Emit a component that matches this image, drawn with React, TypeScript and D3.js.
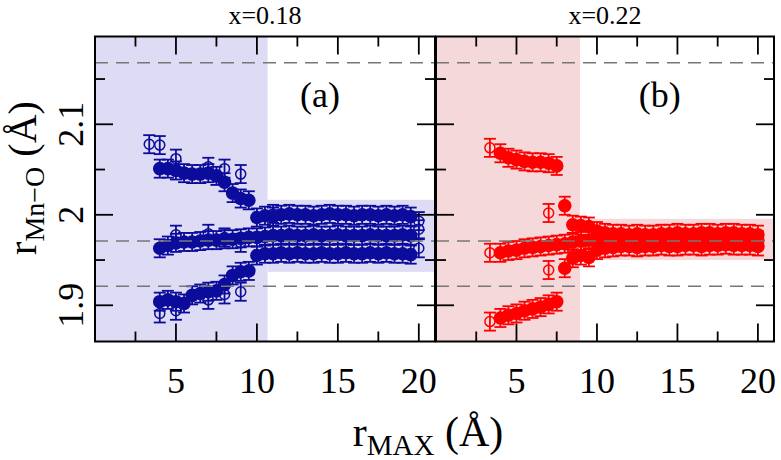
import React from "react";
import * as d3 from "d3";

const W = 781;
const H = 460;

// r_MAX grid of the filled points
const aR = [4, 4.5, 5, 5.5, 6, 6.5, 7, 7.5, 8, 8.5, 9, 9.5, 10, 10.5, 11, 11.5, 12, 12.5, 13, 13.5, 14, 14.5, 15, 15.5, 16, 16.5, 17, 17.5, 18, 18.5, 19, 19.5];
const bR = [4, 4.5, 5, 5.5, 6, 6.5, 7, 7.5, 8, 8.5, 9, 9.5, 10, 10.5, 11, 11.5, 12, 12.5, 13, 13.5, 14, 14.5, 15, 15.5, 16, 16.5, 17, 17.5, 18, 18.5, 19, 19.5, 20];

// (a) x=0.18, filled
const aUpper = [2.051, 2.051, 2.049, 2.046, 2.045, 2.045, 2.046, 2.043, 2.036, 2.024, 2.018, 2.016, 1.997, 1.999, 1.998, 2.0, 2.001, 2.0, 2.0, 1.999, 2.0, 2.001, 2.0, 2.0, 1.999, 2.0, 2.0, 1.999, 2.0, 1.999, 2.0, 1.998];
const aMiddle = [1.963, 1.966, 1.969, 1.97, 1.97, 1.971, 1.972, 1.972, 1.973, 1.973, 1.974, 1.975, 1.975, 1.976, 1.977, 1.977, 1.978, 1.977, 1.977, 1.978, 1.977, 1.977, 1.978, 1.977, 1.977, 1.977, 1.978, 1.977, 1.977, 1.977, 1.978, 1.977];
const aLower = [1.904, 1.906, 1.904, 1.902, 1.911, 1.913, 1.915, 1.916, 1.923, 1.933, 1.937, 1.938, 1.955, 1.957, 1.957, 1.958, 1.957, 1.958, 1.957, 1.957, 1.958, 1.957, 1.957, 1.958, 1.957, 1.957, 1.958, 1.957, 1.958, 1.957, 1.957, 1.956];

// (a) open
const aOpenUpperR = [3.35, 4, 5, 7, 8, 9, 11, 20];
const aOpenUpper = [2.078, 2.077, 2.062, 2.053, 2.051, 2.045, 2.001, 1.993];
const aOpenMiddleR = [5, 7, 8, 9, 20];
const aOpenMiddle = [1.978, 1.979, 1.975, 1.969, 1.984];
const aOpenLowerR = [4, 5, 7, 8, 9, 20];
const aOpenLower = [1.891, 1.894, 1.906, 1.912, 1.915, 1.963];

// (b) x=0.22, filled
const bUpper = [2.068, 2.063, 2.061, 2.059, 2.058, 2.058, 2.057, 2.054, 2.01, 1.989, 1.988, 1.987, 1.982, 1.98, 1.979, 1.979, 1.978, 1.979, 1.978, 1.978, 1.979, 1.979, 1.98, 1.979, 1.979, 1.98, 1.98, 1.979, 1.98, 1.98, 1.979, 1.979, 1.978];
const bMiddle = [1.958, 1.96, 1.961, 1.963, 1.964, 1.965, 1.966, 1.967, 1.968, 1.97, 1.971, 1.972, 1.972, 1.971, 1.972, 1.972, 1.973, 1.972, 1.972, 1.973, 1.972, 1.973, 1.973, 1.972, 1.973, 1.973, 1.974, 1.973, 1.973, 1.974, 1.973, 1.973, 1.972];
const bLower = [1.886, 1.889, 1.891, 1.894, 1.896, 1.898, 1.901, 1.904, 1.941, 1.952, 1.955, 1.953, 1.961, 1.963, 1.964, 1.965, 1.965, 1.964, 1.965, 1.965, 1.966, 1.965, 1.965, 1.966, 1.966, 1.965, 1.966, 1.966, 1.967, 1.966, 1.966, 1.966, 1.965];

// (b) open
const bOpenUpperR = [3.35];
const bOpenUpper = [2.074];
const bOpenMiddleR = [3.35, 7];
const bOpenMiddle = [1.958, 2.002];
const bOpenLowerR = [3.35, 7];
const bOpenLower = [1.882, 1.939];

const errBar = 0.01;
const refLines = [2.168, 1.971, 1.921];
const xMajor = [5, 10, 15, 20];
const xMinor = [2.5, 7.5, 12.5, 17.5];
const yMajor = [1.9, 2.0, 2.1];
const yMinor = [1.95, 2.05, 2.15];

const FONT = "'Liberation Serif', 'DejaVu Serif', serif";

const y = d3.scaleLinear().domain([1.86, 2.197]).range([341.5, 36.5]);

type Series = { r: number[]; v: number[]; open: boolean };

type PanelProps = {
  x0: number;
  x1: number;
  color: string;
  shade: string;
  shadeEnd: number;
  band: [number, number];
  series: Series[];
  label: string;
  title: string;
};

const Panel: React.FC<PanelProps> = ({ x0, x1, color, shade, shadeEnd, band, series, label, title }) => {
  const x = d3.scaleLinear().domain([0, 21]).range([x0, x1]);
  const [y0, y1] = y.range();
  const cap = 6;
  return (
    <g>
      {/* shaded areas */}
      <rect x={x(0)} y={y1} width={x(shadeEnd) - x(0)} height={y0 - y1} fill={shade} />
      <rect x={x(shadeEnd)} y={y(band[1])} width={x(21) - x(shadeEnd)} height={y(band[0]) - y(band[1])} fill={shade} />

      {/* data */}
      {series.map((s, si) => (
        <g key={si}>
          {s.r.map((r, i) => {
            const cx = x(r);
            const v = s.v[i];
            const yt = y(v + errBar);
            const yb = y(v - errBar);
            return (
              <g key={i} stroke={color} strokeWidth={1.8}>
                <line x1={cx} x2={cx} y1={yt} y2={yb} />
                <line x1={cx - cap} x2={cx + cap} y1={yt} y2={yt} />
                <line x1={cx - cap} x2={cx + cap} y1={yb} y2={yb} />
                {s.open ? (
                  <circle cx={cx} cy={y(v)} r={5} fill="none" strokeWidth={1.5} />
                ) : (
                  <circle cx={cx} cy={y(v)} r={6.8} fill={color} stroke="none" />
                )}
              </g>
            );
          })}
        </g>
      ))}

      {/* reference distances */}
      {refLines.map((d) => (
        <line key={d} x1={x0} x2={x1} y1={y(d)} y2={y(d)} stroke="#777" strokeWidth={1.6} strokeDasharray="13,8" />
      ))}

      {/* ticks */}
      {xMajor.concat(xMinor).map((t) => {
        const len = xMajor.includes(t) ? 18 : 10;
        return (
          <g key={"x" + t} stroke="#000" strokeWidth={1.8}>
            <line x1={x(t)} x2={x(t)} y1={y0} y2={y0 - len} />
            <line x1={x(t)} x2={x(t)} y1={y1} y2={y1 + len} />
          </g>
        );
      })}
      {yMajor.concat(yMinor).map((t) => {
        const len = yMajor.includes(t) ? 18 : 10;
        return (
          <g key={"y" + t} stroke="#000" strokeWidth={1.8}>
            <line x1={x0} x2={x0 + len} y1={y(t)} y2={y(t)} />
            <line x1={x1} x2={x1 - len} y1={y(t)} y2={y(t)} />
          </g>
        );
      })}
      <rect x={x0} y={y1} width={x1 - x0} height={y0 - y1} fill="none" stroke="#000" strokeWidth={2} />

      {/* tick labels */}
      {xMajor.map((t) => (
        <text key={"xl" + t} x={x(t)} y={393} textAnchor="middle" fontSize={36} fontFamily={FONT}>
          {t}
        </text>
      ))}
      <text x={x(13.9)} y={107} textAnchor="middle" fontSize={36} fontFamily={FONT}>
        {label}
      </text>
      <text x={(x0 + x1) / 2} y={24} textAnchor="middle" fontSize={26} fontFamily={FONT}>
        {title}
      </text>
    </g>
  );
};

const App: React.FC = () => {
  return (
    <svg width={W} height={H} style={{ position: "absolute", left: 0, top: 0, background: "#fff" }}>
      <rect width={W} height={H} fill="#fff" />
      <Panel
        x0={95}
        x1={435}
        color="#0c0c9c"
        shade="#dedbf4"
        shadeEnd={10.66}
        band={[1.937, 2.0166]}
        label="(a)"
        title="x=0.18"
        series={[
          { r: aOpenUpperR, v: aOpenUpper, open: true },
          { r: aOpenMiddleR, v: aOpenMiddle, open: true },
          { r: aOpenLowerR, v: aOpenLower, open: true },
          { r: aR, v: aUpper, open: false },
          { r: aR, v: aMiddle, open: false },
          { r: aR, v: aLower, open: false },
        ]}
      />
      <Panel
        x0={436}
        x1={774}
        color="#ff0000"
        shade="#f5d9da"
        shadeEnd={8.95}
        band={[1.95, 1.9956]}
        label="(b)"
        title="x=0.22"
        series={[
          { r: bOpenUpperR, v: bOpenUpper, open: true },
          { r: bOpenMiddleR, v: bOpenMiddle, open: true },
          { r: bOpenLowerR, v: bOpenLower, open: true },
          { r: bR, v: bUpper, open: false },
          { r: bR, v: bMiddle, open: false },
          { r: bR, v: bLower, open: false },
        ]}
      />

      {/* y tick labels */}
      {yMajor.map((t) => (
        <text
          key={"yl" + t}
          transform={`translate(83,${y(t)}) rotate(-90)`}
          textAnchor="middle"
          fontSize={36}
          fontFamily={FONT}
        >
          {d3.format("~g")(t)}
        </text>
      ))}

      {/* axis titles */}
      <text transform="translate(36,178) rotate(-90)" textAnchor="middle" fontSize={40} fontFamily={FONT}>
        r
        <tspan fontSize={28} dy={8}>
          Mn−O
        </tspan>
        <tspan dy={-8}> (Å)</tspan>
      </text>
      <text x={428} y={446} textAnchor="middle" fontSize={42} fontFamily={FONT}>
        r
        <tspan fontSize={29} dy={9}>
          MAX
        </tspan>
        <tspan dy={-9}> (Å)</tspan>
      </text>
    </svg>
  );
};

export default App;
